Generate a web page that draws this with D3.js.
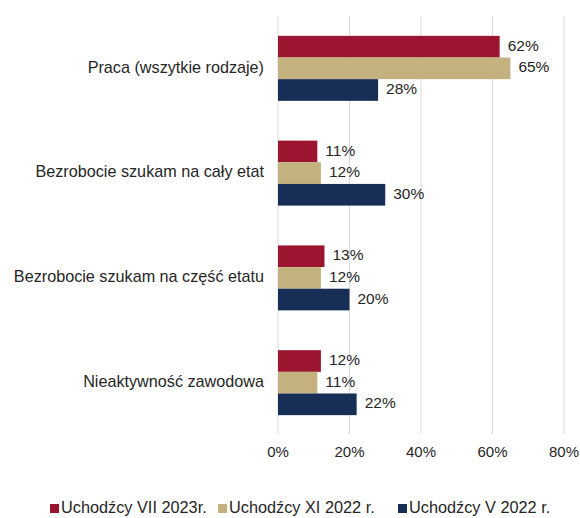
<!DOCTYPE html>
<html lang="pl">
<head>
    <meta charset="UTF-8">
    <title>Status zawodowy uchodźców</title>
    <script src="https://d3js.org/d3.v7.min.js"></script>
    <style>
        body { margin: 0; background: #fff; }
        text { font-family: "Liberation Sans", Arial, sans-serif; fill: #262626; }
        .grid line { stroke: #d9d9d9; stroke-width: 1; }
    </style>
</head>
<body>
    <svg width="580" height="518"></svg>

    <script>
        // data
        const categories = ["Praca (wszytkie rodzaje)", "Bezrobocie szukam na cały etat",
                            "Bezrobocie szukam na część etatu", "Nieaktywność zawodowa"];
        const seriesNames = ["Uchodźcy VII 2023r.", "Uchodźcy XI 2022 r.", "Uchodźcy V 2022 r."];
        const vii2023 = [62, 11, 13, 12];
        const xi2022 = [65, 12, 12, 11];
        const v2022 = [28, 30, 20, 22];
        const ticks = [0, 20, 40, 60, 80];
        const colors = ["#9b1530", "#c3b27f", "#172e57"];

        const series = [vii2023, xi2022, v2022];

        const svg = d3.select("svg");

        const x = d3.scaleLinear().domain([0, 80]).range([278, 564]);
        const y = d3.scaleBand().domain(categories).range([17, 434])
                    .paddingInner(0.38).paddingOuter(0.18);
        const ySub = d3.scaleBand().domain(d3.range(series.length)).range([0, y.bandwidth()]);

        // vertical gridlines
        svg.append("g").attr("class", "grid")
            .selectAll("line").data(ticks).enter().append("line")
            .attr("x1", d => x(d)).attr("x2", d => x(d))
            .attr("y1", 16).attr("y2", 434);

        // tick labels
        svg.append("g").selectAll("text").data(ticks).enter().append("text")
            .attr("x", d => x(d)).attr("y", 453)
            .attr("text-anchor", "middle").attr("dominant-baseline", "middle")
            .style("font-size", "15px")
            .text(d => d + "%");

        // category labels
        svg.append("g").selectAll("text").data(categories).enter().append("text")
            .attr("x", 264).attr("y", d => y(d) + y.bandwidth() / 2)
            .attr("text-anchor", "end").attr("dominant-baseline", "middle")
            .style("font-size", "16.2px")
            .text(d => d);

        // bars
        series.forEach(function(vals, si) {
            const g = svg.append("g");
            g.selectAll("rect").data(vals).enter().append("rect")
                .attr("x", x(0))
                .attr("y", (d, i) => y(categories[i]) + ySub(si))
                .attr("width", d => x(d) - x(0))
                .attr("height", ySub.bandwidth())
                .attr("fill", colors[si]);
            g.selectAll("text").data(vals).enter().append("text")
                .attr("x", d => x(d) + 8)
                .attr("y", (d, i) => y(categories[i]) + ySub(si) + ySub.bandwidth() / 2)
                .attr("dominant-baseline", "middle")
                .style("font-size", "15.5px")
                .text(d => d + "%");
        });

        // legend
        const legendX = [50, 218, 398];
        const legend = svg.append("g").selectAll("g").data(seriesNames).enter().append("g")
            .attr("transform", (d, i) => `translate(${legendX[i]},509)`);
        legend.append("rect").attr("x", 0).attr("y", -5).attr("width", 9).attr("height", 9)
            .attr("fill", (d, i) => colors[i]);
        legend.append("text").attr("x", 11).attr("y", 0)
            .attr("dominant-baseline", "middle")
            .style("font-size", "16.3px")
            .text(d => d);
    </script>
</body>
</html>
